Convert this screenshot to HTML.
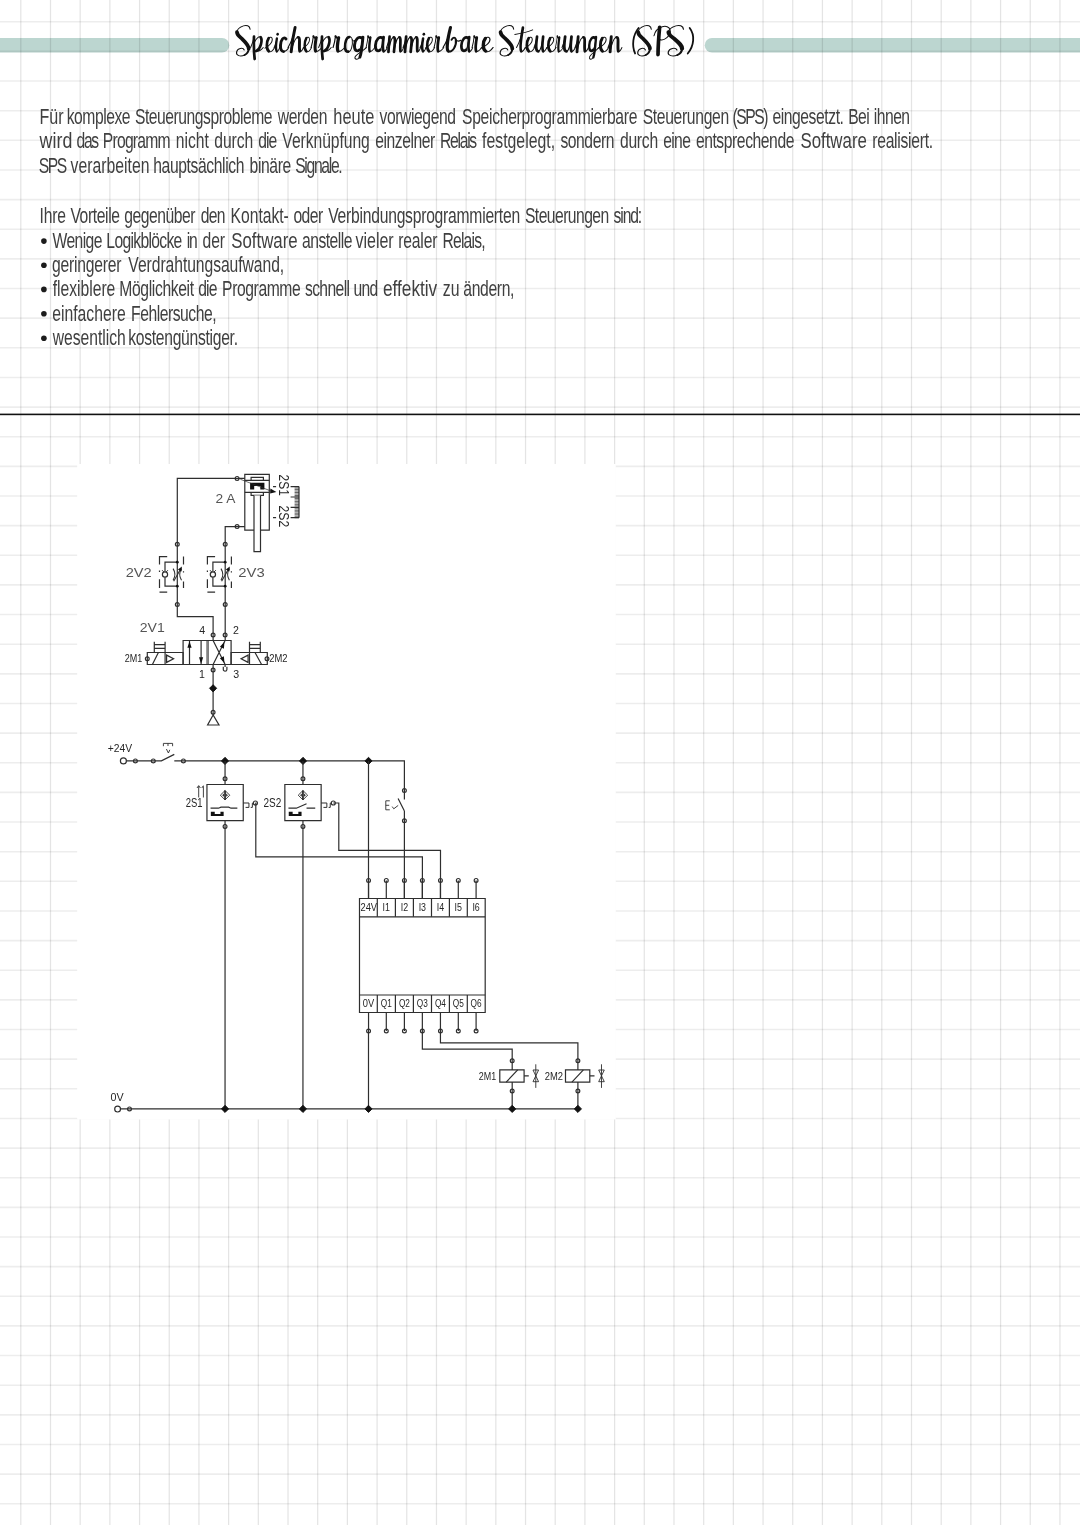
<!DOCTYPE html>
<html lang="de"><head><meta charset="utf-8"><title>Speicherprogrammierbare Steuerungen (SPS)</title>
<style>
html,body{margin:0;padding:0;background:#fff;}
body{width:1080px;height:1525px;position:relative;overflow:hidden;font-family:"Liberation Sans",sans-serif;}
svg{position:absolute;left:0;top:0;display:block;}
text{font-family:"Liberation Sans",sans-serif;}
.body text{font-size:21.2px;fill:#404040;}
.title text{font-family:"Liberation Serif",serif;font-style:italic;}
.dg{fill:none;stroke:#2e2e2e;stroke-width:1.2;}
.dg text{stroke:none;fill:#262626;}
.dg .f{fill:#111;stroke:none;}
.dg .lt{fill:#555;}
.dg .w{fill:#fff;}
.dg .n{fill:none;}
.dg,.body,.title{filter:grayscale(1);}
</style></head><body>
<svg width="1080" height="1525" viewBox="0 0 1080 1525">
<path d="M0,38H222a7.25,7.25 0 0 1 0,14.5H0Z" fill="#bcd6d0"/>
<path d="M1080,38H712a7.25,7.25 0 0 0 0,14.5H1080Z" fill="#bcd6d0"/>
<path d="M20.80,0V1525M50.49,0V1525M80.18,0V1525M109.87,0V1525M139.56,0V1525M169.25,0V1525M198.94,0V1525M228.63,0V1525M258.32,0V1525M288.01,0V1525M317.70,0V1525M347.39,0V1525M377.08,0V1525M406.77,0V1525M436.46,0V1525M466.15,0V1525M495.84,0V1525M525.53,0V1525M555.22,0V1525M584.91,0V1525M614.60,0V1525M644.29,0V1525M673.98,0V1525M703.67,0V1525M733.36,0V1525M763.05,0V1525M792.74,0V1525M822.43,0V1525M852.12,0V1525M881.81,0V1525M911.50,0V1525M941.19,0V1525M970.88,0V1525M1000.57,0V1525M1030.26,0V1525M1059.95,0V1525" stroke="#000" stroke-opacity="0.105" stroke-width="1.25" fill="none"/>
<path d="M0,21.76H1080M0,51.40H1080M0,81.04H1080M0,110.68H1080M0,140.32H1080M0,169.96H1080M0,199.60H1080M0,229.24H1080M0,258.88H1080M0,288.52H1080M0,318.16H1080M0,347.80H1080M0,377.44H1080M0,407.08H1080M0,436.72H1080M0,466.36H1080M0,496.00H1080M0,525.64H1080M0,555.28H1080M0,584.92H1080M0,614.56H1080M0,644.20H1080M0,673.84H1080M0,703.48H1080M0,733.12H1080M0,762.76H1080M0,792.40H1080M0,822.04H1080M0,851.68H1080M0,881.32H1080M0,910.96H1080M0,940.60H1080M0,970.24H1080M0,999.88H1080M0,1029.52H1080M0,1059.16H1080M0,1088.80H1080M0,1118.44H1080M0,1148.08H1080M0,1177.72H1080M0,1207.36H1080M0,1237.00H1080M0,1266.64H1080M0,1296.28H1080M0,1325.92H1080M0,1355.56H1080M0,1385.20H1080M0,1414.84H1080M0,1444.48H1080M0,1474.12H1080M0,1503.76H1080" stroke="#000" stroke-opacity="0.07" stroke-width="1.6" fill="none"/>
<g class="title">
<g fill="none" stroke="#111" stroke-linecap="round" stroke-linejoin="round">
<g transform="translate(236.6,52.2) skewX(-3) scale(1.705,1.550)">
<path d="M7.2,-14.8C7,-17.2 4.8,-17.6 3.2,-17C1.2,-16.2 -0.5,-14.8 -0.4,-13" stroke-width="0.65"/>
<path d="M-0.4,-13C-0.2,-10.8 1.6,-9.8 3,-8.4C5.2,-6.2 7,-4.4 7,-2.2" stroke-width="2.19"/>
<path d="M7,-2.2C7,-0.6 6.2,1 4.8,1.8" stroke-width="1.16"/>
<path d="M4.8,1.8C2.4,3.2 -0.4,2.2 0,-0.2C0.4,-2.6 3.6,-3.4 4.4,-1.4" stroke-width="0.65"/>
</g>
<g transform="translate(250.4,52.2) skewX(-3) scale(1.538,1.550)">
<path d="M0,-3C0.8,-5 1.6,-8 1.9,-10" stroke-width="0.65"/>
<path d="M1.8,-10C1.9,-5 2.4,1 3.0,4.4" stroke-width="1.77"/>
<path d="M2.1,-6C3.1,-9 5.2,-10.6 6.2,-9.6" stroke-width="0.65"/>
<path d="M6.2,-9.6C7.5,-8 6.7,-2 3.7,-0.8" stroke-width="1.77"/>
<path d="M3.7,-0.8C5.2,-0.2 7.2,-1.5 8.2,-3" stroke-width="0.65"/>
</g>
<g transform="translate(264.8,52.2) skewX(-3) scale(1.552,1.550)">
<path d="M0,-2.6C1.6,-3.6 4.4,-5.6 4.4,-8.1C4.4,-9.9 2.7,-10.1 2,-9" stroke-width="0.65"/>
<path d="M2,-9C0.8,-7 0.6,-2 2.6,-0.6" stroke-width="1.77"/>
<path d="M2.6,-0.6C3.8,0.2 5.2,-1 6.2,-3" stroke-width="0.65"/>
</g>
<g transform="translate(273.8,52.2) skewX(-3) scale(1.316,1.550)">
<path d="M0,-3C1,-5 1.6,-7 1.8,-8.8" stroke-width="0.65"/>
<path d="M1.8,-8.8C1.4,-6 1.2,-2 2.2,-0.6" stroke-width="1.77"/>
<path d="M2.2,-0.6C2.8,0 3.7,-1.5 4.2,-3" stroke-width="0.65"/>
<circle cx="2.2" cy="-11.6" r="0.95" fill="#111" stroke="none"/>
</g>
<g transform="translate(278.8,52.2) skewX(-3) scale(1.667,1.550)">
<path d="M3.9,-8.5C2.6,-10.7 0.8,-8 0.8,-4.5C0.8,-1.5 1.8,-0.4 2.9,-0.4" stroke-width="1.77"/>
<path d="M2.9,-0.4C4.2,-0.4 5.2,-1.8 5.8,-3" stroke-width="0.65"/>
</g>
<g transform="translate(287.8,52.2) skewX(-3) scale(1.667,1.550)">
<path d="M0,-3C1.5,-6 3.2,-11.5 3.6,-16" stroke-width="0.65"/>
<path d="M3.6,-16C2.9,-12 2.2,-5 2,-0.2" stroke-width="1.77"/>
<path d="M2,-0.2C2.5,-5 4.2,-9.6 5.7,-9.6" stroke-width="0.65"/>
<path d="M5.7,-9.6C7.3,-9.6 6.3,-3 7.2,-0.6" stroke-width="1.77"/>
<path d="M7.2,-0.6C7.8,0 8.8,-1.5 9.3,-3" stroke-width="0.65"/>
</g>
<g transform="translate(302.8,52.2) skewX(-3) scale(1.379,1.550)">
<path d="M0,-2.6C1.6,-3.6 4.4,-5.6 4.4,-8.1C4.4,-9.9 2.7,-10.1 2,-9" stroke-width="0.65"/>
<path d="M2,-9C0.8,-7 0.6,-2 2.6,-0.6" stroke-width="1.77"/>
<path d="M2.6,-0.6C3.8,0.2 5.2,-1 6.2,-3" stroke-width="0.65"/>
</g>
<g transform="translate(310.8,52.2) skewX(-3) scale(1.724,1.550)">
<path d="M0,-3C0.5,-5 0.9,-8 1.0,-10.4" stroke-width="0.65"/>
<path d="M1.0,-10.4C1.4,-9.2 2.0,-9 2.8,-9.5" stroke-width="1.16"/>
<path d="M2.7,-9.4C2.3,-6 2.1,-2 2.8,-0.6" stroke-width="1.77"/>
<path d="M2.8,-0.6C3.7,0.1 5.3,-1.5 6.3,-3" stroke-width="0.65"/>
</g>
<g transform="translate(318.4,52.2) skewX(-3) scale(1.538,1.550)">
<path d="M0,-3C0.8,-5 1.6,-8 1.9,-10" stroke-width="0.65"/>
<path d="M1.8,-10C1.9,-5 2.4,1 3.0,4.4" stroke-width="1.77"/>
<path d="M2.1,-6C3.1,-9 5.2,-10.6 6.2,-9.6" stroke-width="0.65"/>
<path d="M6.2,-9.6C7.5,-8 6.7,-2 3.7,-0.8" stroke-width="1.77"/>
<path d="M3.7,-0.8C5.2,-0.2 7.2,-1.5 8.2,-3" stroke-width="0.65"/>
</g>
<g transform="translate(332.8,52.2) skewX(-3) scale(1.862,1.550)">
<path d="M0,-3C0.5,-5 0.9,-8 1.0,-10.4" stroke-width="0.65"/>
<path d="M1.0,-10.4C1.4,-9.2 2.0,-9 2.8,-9.5" stroke-width="1.16"/>
<path d="M2.7,-9.4C2.3,-6 2.1,-2 2.8,-0.6" stroke-width="1.77"/>
<path d="M2.8,-0.6C3.7,0.1 5.3,-1.5 6.3,-3" stroke-width="0.65"/>
</g>
<g transform="translate(343.6,52.2) skewX(-3) scale(1.484,1.550)">
<path d="M3.3,-9.8C1.3,-9.8 0.6,-6 0.8,-3.5C1,-1 2,-0.3 3.1,-0.3" stroke-width="1.77"/>
<path d="M3.1,-0.3C5.2,-0.3 6,-5 5.4,-8C5,-10 3.7,-10 3.3,-9.8" stroke-width="0.65"/>
<path d="M5.4,-8C6,-7 6.8,-7 7.3,-7.6" stroke-width="0.65"/>
</g>
<g transform="translate(352.8,52.2) skewX(-3) scale(1.667,1.550)">
<path d="M5.1,-9C3,-10.9 0.8,-8 0.8,-4.5C0.8,-1 2.5,-0.2 3.9,-1.5" stroke-width="1.77"/>
<path d="M3.9,-1.5C4.9,-3 5.4,-7 5.6,-9.8" stroke-width="0.65"/>
<path d="M5.6,-9.8C5.4,-4 5.3,1 4.4,3.2" stroke-width="1.77"/>
<path d="M4.4,3.2C3.5,5.2 1.1,4.8 1.5,3.1C1.9,1.5 5.2,0 8,-3" stroke-width="0.65"/>
</g>
<g transform="translate(365.8,52.2) skewX(-3) scale(1.379,1.550)">
<path d="M0,-3C0.5,-5 0.9,-8 1.0,-10.4" stroke-width="0.65"/>
<path d="M1.0,-10.4C1.4,-9.2 2.0,-9 2.8,-9.5" stroke-width="1.16"/>
<path d="M2.7,-9.4C2.3,-6 2.1,-2 2.8,-0.6" stroke-width="1.77"/>
<path d="M2.8,-0.6C3.7,0.1 5.3,-1.5 6.3,-3" stroke-width="0.65"/>
</g>
<g transform="translate(373.8,52.2) skewX(-3) scale(1.603,1.550)">
<path d="M5.1,-9C3,-10.9 0.8,-8 0.8,-4.5C0.8,-1 2.5,-0.2 3.9,-1.5" stroke-width="1.77"/>
<path d="M3.9,-1.5C4.9,-3 5.4,-7 5.6,-9.8" stroke-width="0.65"/>
<path d="M5.6,-9.8C5.3,-6 5.1,-2 6.1,-0.6" stroke-width="1.77"/>
<path d="M6.1,-0.6C6.7,0 7.8,-1.5 8.2,-3" stroke-width="0.65"/>
</g>
<g transform="translate(386.3,52.2) skewX(-3) scale(1.528,1.550)">
<path d="M0,-3C0.8,-5 1.4,-8 1.6,-10" stroke-width="0.65"/>
<path d="M1.6,-10C1.5,-6 1.4,-3 1.4,-0.2" stroke-width="1.77"/>
<path d="M1.4,-0.2C1.8,-5 3,-9.6 4.4,-9.6" stroke-width="0.65"/>
<path d="M4.4,-9.6C5.8,-9.6 5.1,-4 5,-0.2" stroke-width="1.77"/>
<path d="M5,-0.2C5.4,-5 6.6,-9.6 8,-9.6" stroke-width="0.65"/>
<path d="M8,-9.6C9.5,-9.6 8.5,-3 9.3,-0.6" stroke-width="1.77"/>
<path d="M9.3,-0.6C9.9,0 10.7,-1.5 11.1,-3" stroke-width="0.65"/>
</g>
<g transform="translate(402.8,52.2) skewX(-3) scale(1.574,1.550)">
<path d="M0,-3C0.8,-5 1.4,-8 1.6,-10" stroke-width="0.65"/>
<path d="M1.6,-10C1.5,-6 1.4,-3 1.4,-0.2" stroke-width="1.77"/>
<path d="M1.4,-0.2C1.8,-5 3,-9.6 4.4,-9.6" stroke-width="0.65"/>
<path d="M4.4,-9.6C5.8,-9.6 5.1,-4 5,-0.2" stroke-width="1.77"/>
<path d="M5,-0.2C5.4,-5 6.6,-9.6 8,-9.6" stroke-width="0.65"/>
<path d="M8,-9.6C9.5,-9.6 8.5,-3 9.3,-0.6" stroke-width="1.77"/>
<path d="M9.3,-0.6C9.9,0 10.7,-1.5 11.1,-3" stroke-width="0.65"/>
</g>
<g transform="translate(419.8,52.2) skewX(-3) scale(1.421,1.550)">
<path d="M0,-3C1,-5 1.6,-7 1.8,-8.8" stroke-width="0.65"/>
<path d="M1.8,-8.8C1.4,-6 1.2,-2 2.2,-0.6" stroke-width="1.77"/>
<path d="M2.2,-0.6C2.8,0 3.7,-1.5 4.2,-3" stroke-width="0.65"/>
<circle cx="2.2" cy="-11.6" r="0.95" fill="#111" stroke="none"/>
</g>
<g transform="translate(425.2,52.2) skewX(-3) scale(1.483,1.550)">
<path d="M0,-2.6C1.6,-3.6 4.4,-5.6 4.4,-8.1C4.4,-9.9 2.7,-10.1 2,-9" stroke-width="0.65"/>
<path d="M2,-9C0.8,-7 0.6,-2 2.6,-0.6" stroke-width="1.77"/>
<path d="M2.6,-0.6C3.8,0.2 5.2,-1 6.2,-3" stroke-width="0.65"/>
</g>
<g transform="translate(433.8,52.2) skewX(-3) scale(1.552,1.550)">
<path d="M0,-3C0.5,-5 0.9,-8 1.0,-10.4" stroke-width="0.65"/>
<path d="M1.0,-10.4C1.4,-9.2 2.0,-9 2.8,-9.5" stroke-width="1.16"/>
<path d="M2.7,-9.4C2.3,-6 2.1,-2 2.8,-0.6" stroke-width="1.77"/>
<path d="M2.8,-0.6C3.7,0.1 5.3,-1.5 6.3,-3" stroke-width="0.65"/>
</g>
<g transform="translate(442.8,52.2) skewX(-3) scale(1.771,1.550)">
<path d="M0,-3C1.5,-6 3.2,-11.5 3.6,-16" stroke-width="0.65"/>
<path d="M3.6,-16C2.7,-11 1.6,-2 3.1,-0.6" stroke-width="1.77"/>
<path d="M3.1,-0.6C5.2,0.6 7.8,-4 7,-8C6.6,-10 5.2,-9.6 4.6,-8" stroke-width="1.16"/>
<path d="M7,-8C7.8,-7 8.9,-7 9.8,-7.7" stroke-width="0.65"/>
</g>
<g transform="translate(459.8,52.2) skewX(-3) scale(1.538,1.550)">
<path d="M5.1,-9C3,-10.9 0.8,-8 0.8,-4.5C0.8,-1 2.5,-0.2 3.9,-1.5" stroke-width="1.77"/>
<path d="M3.9,-1.5C4.9,-3 5.4,-7 5.6,-9.8" stroke-width="0.65"/>
<path d="M5.6,-9.8C5.3,-6 5.1,-2 6.1,-0.6" stroke-width="1.77"/>
<path d="M6.1,-0.6C6.7,0 7.8,-1.5 8.2,-3" stroke-width="0.65"/>
</g>
<g transform="translate(471.8,52.2) skewX(-3) scale(1.552,1.550)">
<path d="M0,-3C0.5,-5 0.9,-8 1.0,-10.4" stroke-width="0.65"/>
<path d="M1.0,-10.4C1.4,-9.2 2.0,-9 2.8,-9.5" stroke-width="1.16"/>
<path d="M2.7,-9.4C2.3,-6 2.1,-2 2.8,-0.6" stroke-width="1.77"/>
<path d="M2.8,-0.6C3.7,0.1 5.3,-1.5 6.3,-3" stroke-width="0.65"/>
</g>
<g transform="translate(480.8,52.2) skewX(-3) scale(1.938,1.550)">
<path d="M0,-2.6C1.6,-3.6 4.4,-5.6 4.4,-8.1C4.4,-9.9 2.7,-10.1 2,-9" stroke-width="0.65"/>
<path d="M2,-9C0.8,-7 0.6,-2 2.6,-0.6" stroke-width="1.77"/>
<path d="M2.6,-0.6C3.8,0.2 5.2,-1 6.2,-3" stroke-width="0.65"/>
</g>
<g transform="translate(500.2,52.2) skewX(-3) scale(1.705,1.550)">
<path d="M7.2,-14.8C7,-17.2 4.8,-17.6 3.2,-17C1.2,-16.2 -0.5,-14.8 -0.4,-13" stroke-width="0.65"/>
<path d="M-0.4,-13C-0.2,-10.8 1.6,-9.8 3,-8.4C5.2,-6.2 7,-4.4 7,-2.2" stroke-width="2.19"/>
<path d="M7,-2.2C7,-0.6 6.2,1 4.8,1.8" stroke-width="1.16"/>
<path d="M4.8,1.8C2.4,3.2 -0.4,2.2 0,-0.2C0.4,-2.6 3.6,-3.4 4.4,-1.4" stroke-width="0.65"/>
</g>
<g transform="translate(516.3,52.2) skewX(-3) scale(1.518,1.550)">
<path d="M0,-3C1.5,-6 3.1,-11 3.5,-15.8" stroke-width="0.65"/>
<path d="M3.5,-15.8C2.9,-11 2,-2 3.3,-0.6" stroke-width="1.77"/>
<path d="M3.3,-0.6C3.9,0 5.2,-1.5 5.8,-3" stroke-width="0.65"/>
<path d="M-1.6,-11.4C2,-12 6.5,-12.8 10,-14.4" stroke-width="0.65"/>
</g>
<g transform="translate(524.8,52.2) skewX(-3) scale(1.552,1.550)">
<path d="M0,-2.6C1.6,-3.6 4.4,-5.6 4.4,-8.1C4.4,-9.9 2.7,-10.1 2,-9" stroke-width="0.65"/>
<path d="M2,-9C0.8,-7 0.6,-2 2.6,-0.6" stroke-width="1.77"/>
<path d="M2.6,-0.6C3.8,0.2 5.2,-1 6.2,-3" stroke-width="0.65"/>
</g>
<g transform="translate(533.8,52.2) skewX(-3) scale(1.524,1.550)">
<path d="M0,-3C0.8,-5 1.4,-8 1.6,-10" stroke-width="0.65"/>
<path d="M1.6,-10C1.2,-5 1,-0.5 2.9,-0.5" stroke-width="1.77"/>
<path d="M2.9,-0.5C4.3,-0.5 5.3,-6 5.6,-10" stroke-width="0.65"/>
<path d="M5.6,-10C5.3,-6 5.1,-2 6.1,-0.6" stroke-width="1.77"/>
<path d="M6.1,-0.6C6.7,0 7.8,-1.5 8.4,-3" stroke-width="0.65"/>
</g>
<g transform="translate(546.3,52.2) skewX(-3) scale(1.534,1.550)">
<path d="M0,-2.6C1.6,-3.6 4.4,-5.6 4.4,-8.1C4.4,-9.9 2.7,-10.1 2,-9" stroke-width="0.65"/>
<path d="M2,-9C0.8,-7 0.6,-2 2.6,-0.6" stroke-width="1.77"/>
<path d="M2.6,-0.6C3.8,0.2 5.2,-1 6.2,-3" stroke-width="0.65"/>
</g>
<g transform="translate(555.2,52.2) skewX(-3) scale(1.240,1.550)">
<path d="M0,-3C0.5,-5 0.9,-8 1.0,-10.4" stroke-width="0.65"/>
<path d="M1.0,-10.4C1.4,-9.2 2.0,-9 2.8,-9.5" stroke-width="1.16"/>
<path d="M2.7,-9.4C2.3,-6 2.1,-2 2.8,-0.6" stroke-width="1.77"/>
<path d="M2.8,-0.6C3.7,0.1 5.3,-1.5 6.3,-3" stroke-width="0.65"/>
</g>
<g transform="translate(561.8,52.2) skewX(-3) scale(1.585,1.550)">
<path d="M0,-3C0.8,-5 1.4,-8 1.6,-10" stroke-width="0.65"/>
<path d="M1.6,-10C1.2,-5 1,-0.5 2.9,-0.5" stroke-width="1.77"/>
<path d="M2.9,-0.5C4.3,-0.5 5.3,-6 5.6,-10" stroke-width="0.65"/>
<path d="M5.6,-10C5.3,-6 5.1,-2 6.1,-0.6" stroke-width="1.77"/>
<path d="M6.1,-0.6C6.7,0 7.8,-1.5 8.4,-3" stroke-width="0.65"/>
</g>
<g transform="translate(574.8,52.2) skewX(-3) scale(1.585,1.550)">
<path d="M0,-3C0.8,-5 1.4,-8 1.6,-10" stroke-width="0.65"/>
<path d="M1.6,-10C1.5,-6 1.4,-3 1.4,-0.2" stroke-width="1.77"/>
<path d="M1.4,-0.2C1.8,-5 3.3,-9.6 4.9,-9.6" stroke-width="0.65"/>
<path d="M4.9,-9.6C6.5,-9.6 5.5,-3 6.4,-0.6" stroke-width="1.77"/>
<path d="M6.4,-0.6C7,0 7.9,-1.5 8.4,-3" stroke-width="0.65"/>
</g>
<g transform="translate(587.8,52.2) skewX(-3) scale(1.333,1.550)">
<path d="M5.1,-9C3,-10.9 0.8,-8 0.8,-4.5C0.8,-1 2.5,-0.2 3.9,-1.5" stroke-width="1.77"/>
<path d="M3.9,-1.5C4.9,-3 5.4,-7 5.6,-9.8" stroke-width="0.65"/>
<path d="M5.6,-9.8C5.4,-4 5.3,1 4.4,3.2" stroke-width="1.77"/>
<path d="M4.4,3.2C3.5,5.2 1.1,4.8 1.5,3.1C1.9,1.5 5.2,0 8,-3" stroke-width="0.65"/>
</g>
<g transform="translate(598.2,52.2) skewX(-3) scale(1.655,1.550)">
<path d="M0,-2.6C1.6,-3.6 4.4,-5.6 4.4,-8.1C4.4,-9.9 2.7,-10.1 2,-9" stroke-width="0.65"/>
<path d="M2,-9C0.8,-7 0.6,-2 2.6,-0.6" stroke-width="1.77"/>
<path d="M2.6,-0.6C3.8,0.2 5.2,-1 6.2,-3" stroke-width="0.65"/>
</g>
<g transform="translate(607.8,52.2) skewX(-3) scale(1.646,1.550)">
<path d="M0,-3C0.8,-5 1.4,-8 1.6,-10" stroke-width="0.65"/>
<path d="M1.6,-10C1.5,-6 1.4,-3 1.4,-0.2" stroke-width="1.77"/>
<path d="M1.4,-0.2C1.8,-5 3.3,-9.6 4.9,-9.6" stroke-width="0.65"/>
<path d="M4.9,-9.6C6.5,-9.6 5.5,-3 6.4,-0.6" stroke-width="1.77"/>
<path d="M6.4,-0.6C7,0 7.9,-1.5 8.4,-3" stroke-width="0.65"/>
</g>
<g transform="translate(630.8,52.2) skewX(-3) scale(1.550,1.550)">
<path d="M4.2,-15.6C0.6,-11 0.4,-4 2.8,0.8" stroke-width="1.16"/>
</g>
<g transform="translate(637.8,52.2) skewX(-3) scale(1.705,1.550)">
<path d="M7.2,-14.8C7,-17.2 4.8,-17.6 3.2,-17C1.2,-16.2 -0.5,-14.8 -0.4,-13" stroke-width="0.65"/>
<path d="M-0.4,-13C-0.2,-10.8 1.6,-9.8 3,-8.4C5.2,-6.2 7,-4.4 7,-2.2" stroke-width="2.19"/>
<path d="M7,-2.2C7,-0.6 6.2,1 4.8,1.8" stroke-width="1.16"/>
<path d="M4.8,1.8C2.4,3.2 -0.4,2.2 0,-0.2C0.4,-2.6 3.6,-3.4 4.4,-1.4" stroke-width="0.65"/>
</g>
<g transform="translate(652.8,52.2) skewX(-3) scale(1.674,1.550)">
<path d="M3.3,-16.2C3.1,-11 2.9,-5 3.2,1.6" stroke-width="2.19"/>
<path d="M0.2,-10.6C1.2,-16.8 8.4,-18.6 9.6,-14.4C10.6,-10.6 6.2,-6.8 3.6,-8.2" stroke-width="0.65"/>
</g>
<g transform="translate(668.3,52.2) skewX(-3) scale(1.938,1.550)">
<path d="M7.2,-14.8C7,-17.2 4.8,-17.6 3.2,-17C1.2,-16.2 -0.5,-14.8 -0.4,-13" stroke-width="0.65"/>
<path d="M-0.4,-13C-0.2,-10.8 1.6,-9.8 3,-8.4C5.2,-6.2 7,-4.4 7,-2.2" stroke-width="2.19"/>
<path d="M7,-2.2C7,-0.6 6.2,1 4.8,1.8" stroke-width="1.16"/>
<path d="M4.8,1.8C2.4,3.2 -0.4,2.2 0,-0.2C0.4,-2.6 3.6,-3.4 4.4,-1.4" stroke-width="0.65"/>
</g>
<g transform="translate(687.8,52.2) skewX(-3) scale(1.550,1.550)">
<path d="M0.4,-15.6C4.2,-11 3.8,-4 0,0.8" stroke-width="1.16"/>
</g>
</g>
</g>
<g class="body">
<text transform="translate(39.50,123.7) scale(0.758,1)" letter-spacing="0.00">Für</text>
<text transform="translate(66.76,123.7) scale(0.740,1)" letter-spacing="-0.65">komplexe</text>
<text transform="translate(134.97,123.7) scale(0.740,1)" letter-spacing="-0.63">Steuerungsprobleme</text>
<text transform="translate(277.82,123.7) scale(0.740,1)" letter-spacing="-0.49">werden</text>
<text transform="translate(333.30,123.7) scale(0.773,1)" letter-spacing="0.00">heute</text>
<text transform="translate(379.59,123.7) scale(0.740,1)" letter-spacing="-0.57">vorwiegend</text>
<text transform="translate(462.05,123.7) scale(0.740,1)" letter-spacing="-0.41">Speicherprogrammierbare</text>
<text transform="translate(642.64,123.7) scale(0.740,1)" letter-spacing="-0.44">Steuerungen</text>
<text transform="translate(732.47,123.7) scale(0.740,1)" letter-spacing="-1.98">(SPS)</text>
<text transform="translate(772.39,123.7) scale(0.740,1)" letter-spacing="-0.57">eingesetzt.</text>
<text transform="translate(848.35,123.7) scale(0.740,1)" letter-spacing="-0.93">Bei</text>
<text transform="translate(873.66,123.7) scale(0.740,1)" letter-spacing="-0.65">ihnen</text>
<text transform="translate(39.54,148.3) scale(0.840,1)" letter-spacing="0.10">wird</text>
<text transform="translate(76.47,148.3) scale(0.740,1)" letter-spacing="-1.71">das</text>
<text transform="translate(102.82,148.3) scale(0.740,1)" letter-spacing="-1.04">Programm</text>
<text transform="translate(175.79,148.3) scale(0.740,1)" letter-spacing="-0.04">nicht</text>
<text transform="translate(214.27,148.3) scale(0.740,1)" letter-spacing="-0.09">durch</text>
<text transform="translate(258.24,148.3) scale(0.740,1)" letter-spacing="-1.23">die</text>
<text transform="translate(282.37,148.3) scale(0.740,1)" letter-spacing="-0.07">Verknüpfung</text>
<text transform="translate(375.18,148.3) scale(0.740,1)" letter-spacing="-0.60">einzelner</text>
<text transform="translate(439.97,148.3) scale(0.740,1)" letter-spacing="-1.71">Relais</text>
<text transform="translate(482.10,148.3) scale(0.746,1)" letter-spacing="0.00">festgelegt,</text>
<text transform="translate(560.39,148.3) scale(0.740,1)" letter-spacing="-0.58">sondern</text>
<text transform="translate(619.97,148.3) scale(0.740,1)" letter-spacing="-0.36">durch</text>
<text transform="translate(663.18,148.3) scale(0.740,1)" letter-spacing="-0.87">eine</text>
<text transform="translate(695.88,148.3) scale(0.740,1)" letter-spacing="-0.58">entsprechende</text>
<text transform="translate(800.40,148.3) scale(0.795,1)" letter-spacing="0.00">Software</text>
<text transform="translate(872.26,148.3) scale(0.740,1)" letter-spacing="-0.37">realisiert.</text>
<text transform="translate(38.78,173.3) scale(0.740,1)" letter-spacing="-1.93">SPS</text>
<text transform="translate(70.60,173.3) scale(0.744,1)" letter-spacing="-0.00">verarbeiten</text>
<text transform="translate(153.30,173.3) scale(0.740,1)" letter-spacing="-0.53">hauptsächlich</text>
<text transform="translate(249.61,173.3) scale(0.740,1)" letter-spacing="-0.52">binäre</text>
<text transform="translate(295.15,173.3) scale(0.740,1)" letter-spacing="-1.76">Signale.</text>
<text transform="translate(39.43,223.4) scale(0.740,1)" letter-spacing="-0.18">Ihre</text>
<text transform="translate(70.41,223.4) scale(0.740,1)" letter-spacing="-0.51">Vorteile</text>
<text transform="translate(124.27,223.4) scale(0.740,1)" letter-spacing="-0.62">gegenüber</text>
<text transform="translate(200.65,223.4) scale(0.740,1)" letter-spacing="-0.93">den</text>
<text transform="translate(230.59,223.4) scale(0.740,1)" letter-spacing="-0.04">Kontakt-</text>
<text transform="translate(293.42,223.4) scale(0.740,1)" letter-spacing="-0.74">oder</text>
<text transform="translate(328.28,223.4) scale(0.740,1)" letter-spacing="-0.33">Verbindungsprogrammierten</text>
<text transform="translate(524.93,223.4) scale(0.740,1)" letter-spacing="-0.73">Steuerungen</text>
<text transform="translate(613.55,223.4) scale(0.740,1)" letter-spacing="-1.50">sind:</text>
<circle cx="43.9" cy="241.1" r="2.8" fill="#1c1c1c"/>
<text transform="translate(52.50,248.0) scale(0.740,1)" letter-spacing="-0.81">Wenige</text>
<text transform="translate(106.36,248.0) scale(0.740,1)" letter-spacing="-0.92">Logikblöcke</text>
<text transform="translate(186.87,248.0) scale(0.740,1)" letter-spacing="-1.97">in</text>
<text transform="translate(202.40,248.0) scale(0.741,1)" letter-spacing="0.00">der</text>
<text transform="translate(231.20,248.0) scale(0.795,1)" letter-spacing="0.00">Software</text>
<text transform="translate(302.05,248.0) scale(0.740,1)" letter-spacing="-0.69">anstelle</text>
<text transform="translate(355.40,248.0) scale(0.756,1)" letter-spacing="0.00">vieler</text>
<text transform="translate(398.30,248.0) scale(0.740,1)" letter-spacing="-0.27">realer</text>
<text transform="translate(442.41,248.0) scale(0.740,1)" letter-spacing="-1.05">Relais,</text>
<circle cx="43.9" cy="265.3" r="2.8" fill="#1c1c1c"/>
<text transform="translate(52.08,272.2) scale(0.740,1)" letter-spacing="-0.31">geringerer</text>
<text transform="translate(128.37,272.2) scale(0.740,1)" letter-spacing="-0.07">Verdrahtungsaufwand,</text>
<circle cx="43.9" cy="289.4" r="2.8" fill="#1c1c1c"/>
<text transform="translate(52.79,296.3) scale(0.740,1)" letter-spacing="-0.03">flexiblere</text>
<text transform="translate(119.32,296.3) scale(0.740,1)" letter-spacing="-0.49">Möglichkeit</text>
<text transform="translate(198.19,296.3) scale(0.740,1)" letter-spacing="-1.10">die</text>
<text transform="translate(222.10,296.3) scale(0.740,1)" letter-spacing="-0.55">Programme</text>
<text transform="translate(304.90,296.3) scale(0.740,1)" letter-spacing="-0.82">schnell</text>
<text transform="translate(353.55,296.3) scale(0.740,1)" letter-spacing="-0.93">und</text>
<text transform="translate(383.00,296.3) scale(0.813,1)" letter-spacing="0.00">effektiv</text>
<text transform="translate(442.80,296.3) scale(0.746,1)" letter-spacing="0.00">zu</text>
<text transform="translate(463.33,296.3) scale(0.740,1)" letter-spacing="-0.47">ändern,</text>
<circle cx="43.9" cy="313.8" r="2.8" fill="#1c1c1c"/>
<text transform="translate(52.20,320.7) scale(0.743,1)" letter-spacing="0.00">einfachere</text>
<text transform="translate(131.07,320.7) scale(0.740,1)" letter-spacing="-0.63">Fehlersuche,</text>
<circle cx="43.9" cy="338.3" r="2.8" fill="#1c1c1c"/>
<text transform="translate(52.79,345.2) scale(0.740,1)" letter-spacing="-0.03">wesentlich</text>
<text transform="translate(128.25,345.2) scale(0.740,1)" letter-spacing="-0.39">kostengünstiger.</text>
</g>
<rect x="0" y="413.6" width="1080" height="1.6" fill="#111"/>
<rect x="77.2" y="464" width="538.6" height="655.5" fill="#fff"/>
</svg>
<svg class="dg" width="538.6" height="655.5" viewBox="77.2 464 538.6 655.5" style="left:77.2px;top:464px">
<path d="M245,478.4H177.5V616.7H213.3V640.5" />
<path d="M245,526.6H225.4V640.5" />
<path d="M245,474.4H269.5V530.2H245Z" />
<path d="M245,480.3H269.5M245,492.3H269.5" />
<path d="M251.3,480.3V477.4H263.6V480.3" />
<path d="M250.3,482.8H264.6V489.4H260.5V485.9H254.4V489.4H250.3Z" class="f"/>
<path d="M251.3,492.3V495.4H263.6V492.3" />
<path d="M254.2,495.4V551.6H260.7V495.4" class="w"/>
<path d="M240.6,479.3L271.2,491" stroke-width="0.7"/>
<path d="M270.6,488.4L276.6,491.9L270.3,493.6Z" class="f"/>
<circle cx="237.3" cy="478.4" r="1.9" class="n"/>
<circle cx="237.3" cy="526.6" r="1.9" class="n"/>
<text x="215.7" y="503.2" font-size="13.3" textLength="19.9" lengthAdjust="spacingAndGlyphs" class="lt">2 A</text>
<text transform="translate(279.6,474.6) rotate(90)" font-size="14.5" textLength="21.2" lengthAdjust="spacingAndGlyphs">2S1</text>
<text transform="translate(279.6,505.6) rotate(90)" font-size="14.5" textLength="21.6" lengthAdjust="spacingAndGlyphs">2S2</text>
<path d="M273.2,486.6H276.3M273.2,517.7H276.3" />
<path d="M299.2,486.6V517.7M290.8,486.6H299.2M290.8,497.0H299.2M290.8,507.3H299.2M290.8,517.7H299.2" />
<path d="M294.8,486.60H299.2M294.8,488.08H299.2M294.8,489.56H299.2M294.8,491.04H299.2M294.8,492.52H299.2M294.8,494.00H299.2M294.8,495.49H299.2M294.8,496.97H299.2M294.8,498.45H299.2M294.8,499.93H299.2M294.8,501.41H299.2M294.8,502.89H299.2M294.8,504.37H299.2M294.8,505.85H299.2M294.8,507.33H299.2M294.8,508.81H299.2M294.8,510.30H299.2M294.8,511.78H299.2M294.8,513.26H299.2M294.8,514.74H299.2M294.8,516.22H299.2M294.8,517.70H299.2" stroke-width="0.75"/>
<path d="M167.39999999999998,556.6H159.7V564.4M159.7,570.4V571.9M159.7,579.3V588.1M159.7,592.1H167.39999999999998M183.7,556.6V564.4M183.7,571.2V572.6M183.7,581.5V588.1" />
<path d="M177.5,562.2H165.2V571.7M165.2,577.1V586.2H177.5" />
<path d="M162.29999999999998,570.2L165.2,573.2L168.1,570.2" stroke-width="1"/>
<circle cx="165.2" cy="574.4" r="2.6" class="w"/>
<circle cx="177.5" cy="562.2" r="1.4" class="f"/>
<circle cx="177.5" cy="586.2" r="1.4" class="f"/>
<path d="M173.3,568.6Q176.9,574.4 173.3,580.2M181.7,568.6Q178.1,574.4 181.7,580.2" stroke-width="1.1"/>
<path d="M173.9,581.2L181.1,568.4" stroke-width="1.1"/>
<path d="M182.1,566.6L181.7,571.6L178.1,569.5Z" class="f"/>
<circle cx="177.5" cy="544.3" r="1.9" class="n"/>
<circle cx="177.5" cy="604.5" r="1.9" class="n"/>
<path d="M215.29999999999998,556.6H207.6V564.4M207.6,570.4V571.9M207.6,579.3V588.1M207.6,592.1H215.29999999999998M231.6,556.6V564.4M231.6,571.2V572.6M231.6,581.5V588.1" />
<path d="M225.4,562.2H213.1V571.7M213.1,577.1V586.2H225.4" />
<path d="M210.2,570.2L213.1,573.2L216.0,570.2" stroke-width="1"/>
<circle cx="213.1" cy="574.4" r="2.6" class="w"/>
<circle cx="225.4" cy="562.2" r="1.4" class="f"/>
<circle cx="225.4" cy="586.2" r="1.4" class="f"/>
<path d="M221.20000000000002,568.6Q224.8,574.4 221.20000000000002,580.2M229.6,568.6Q226.0,574.4 229.6,580.2" stroke-width="1.1"/>
<path d="M221.8,581.2L229.0,568.4" stroke-width="1.1"/>
<path d="M230.0,566.6L229.6,571.6L226.0,569.5Z" class="f"/>
<circle cx="225.4" cy="544.3" r="1.9" class="n"/>
<circle cx="225.4" cy="604.5" r="1.9" class="n"/>
<text x="125.9" y="577" font-size="12.4" textLength="26" lengthAdjust="spacingAndGlyphs" class="lt">2V2</text>
<text x="238.5" y="577" font-size="12.4" textLength="26.4" lengthAdjust="spacingAndGlyphs" class="lt">2V3</text>
<text x="140" y="632.5" font-size="12.8" textLength="25" lengthAdjust="spacingAndGlyphs" class="lt">2V1</text>
<path d="M183.3,640.5H231.3V664.5H183.3Z" />
<path d="M207.2,640.5V664.5M208.4,640.5V664.5" stroke-width="0.9"/>
<path d="M189.7,664.5V640.5M201.3,640.5V664.5" />
<path d="M187.6,647.8H191.8L189.7,641.2Z" class="f"/>
<path d="M199.2,657.2H203.4L201.3,663.8Z" class="f"/>
<path d="M213.3,664.5L225.3,640.5M213.3,640.5L225.3,664.5" />
<path d="M224.6,641.9L224.1,648.8L220.1,646.8Z" class="f"/>
<path d="M224.6,663.1L220.1,658.2L224.1,656.2Z" class="f"/>
<path d="M147.5,652.5H183.3V664.5H147.5Z" />
<path d="M152.6,664.5L158.6,652.5M165.3,652.5V664.5" />
<path d="M166.8,655.1L173.8,658.7L166.8,662.4Z" />
<path d="M154.5,652.5V641.7M165.3,652.5V641.7M154.5,644.7H165.3M154.5,648.3H165.3" />
<circle cx="147.5" cy="658.7" r="1.9" class="n"/>
<path d="M231.3,652.5H267.5V664.5H231.3Z" />
<path d="M255.2,652.5L261.8,664.5M249.7,652.5V664.5" />
<path d="M248.3,655.1L241.3,658.7L248.3,662.4Z" />
<path d="M249.7,652.5V641.7M260.5,652.5V641.7M249.7,644.7H260.5M249.7,648.3H260.5" />
<circle cx="267.2" cy="658.7" r="1.9" class="n"/>
<text x="125" y="662.5" font-size="10.4" textLength="17.5" lengthAdjust="spacingAndGlyphs" >2M1</text>
<text x="269.4" y="662.5" font-size="10.4" textLength="18.3" lengthAdjust="spacingAndGlyphs" >2M2</text>
<text x="199.5" y="633.8" font-size="10.6" >4</text>
<text x="233.2" y="633.8" font-size="10.6" >2</text>
<text x="199.3" y="678.2" font-size="10.6" >1</text>
<text x="233.4" y="678.2" font-size="10.6" >3</text>
<circle cx="213.3" cy="635" r="1.9" class="n"/>
<circle cx="225.3" cy="635" r="1.9" class="n"/>
<path d="M213.3,664.5V715M225.3,664.5V667" />
<circle cx="213.3" cy="670" r="1.9" class="n"/>
<path d="M223.5,666.8V669.4A1.8,1.8 0 0 0 227.1,669.4V666.8" />
<path d="M209.70,688.3L213.3,684.70L216.90,688.3L213.3,691.90Z" fill="#111" stroke="#111" stroke-width="0.9" stroke-linejoin="round"/>
<circle cx="213.3" cy="712.2" r="1.9" class="n"/>
<path d="M213.3,715L207.8,725H219.2Z" />
<text x="108" y="752.5" font-size="10.7" textLength="24.4" lengthAdjust="spacingAndGlyphs" >+24V</text>
<path d="M126.8,760.9H161.6L174.5,754.4M174.5,760.9H404.6V799.6M404.6,811.1L398.3,798.5M404.6,811.1V898.5" />
<circle cx="123.6" cy="760.9" r="3.0" class="w"/>
<circle cx="135.6" cy="760.9" r="1.9" class="n"/>
<circle cx="153.5" cy="760.9" r="1.9" class="n"/>
<circle cx="183.6" cy="760.9" r="1.9" class="n"/>
<path d="M163.6,746.2V743.4H172.8V746.2M168.2,743.4V746" stroke-width="0.9"/>
<path d="M166.6,749L168.6,753L170,749.8" stroke-width="0.9"/>
<path d="M221.60,760.9L225.2,757.30L228.80,760.9L225.2,764.50Z" fill="#111" stroke="#111" stroke-width="0.9" stroke-linejoin="round"/>
<path d="M299.60,760.9L303.2,757.30L306.80,760.9L303.2,764.50Z" fill="#111" stroke="#111" stroke-width="0.9" stroke-linejoin="round"/>
<path d="M365.10,760.9L368.7,757.30L372.30,760.9L368.7,764.50Z" fill="#111" stroke="#111" stroke-width="0.9" stroke-linejoin="round"/>
<circle cx="404.6" cy="790.6" r="1.9" class="n"/>
<circle cx="404.6" cy="820.8" r="1.9" class="n"/>
<path d="M390,800.8H386V809.8H390M386,805.3H389.4" stroke-width="0.9"/>
<path d="M392.4,806.6L394,808.8L398.4,805.4" stroke-width="0.9"/>
<path d="M225.25,760.9V784.5M225.25,820.7V1108.9" />
<path d="M207.15,784.5H243.45V820.7H207.15Z" />
<circle cx="225.25" cy="778.7" r="1.9" class="n"/>
<circle cx="225.25" cy="826.4" r="1.9" class="n"/>
<path d="M225.25,790.5L229.95,795.2L225.25,799.9L220.55,795.2Z" stroke-width="0.9"/>
<path d="M225.25,790.5V799.9" stroke-width="1.8"/>
<path d="M224.05,793.6L222.45,795.2L224.05,796.8ZM226.45,793.6L228.05,795.2L226.45,796.8Z" class="f"/>
<path d="M210.75,808.2H218.65L221.25,807.2H228.85L231.25,808.2H237.55" />
<path d="M211.05,811.7H214.95000000000002V814.1H220.65V811.7H223.85V816H211.05Z" class="f"/>
<path d="M243.45,803H249.15V807.4H245.75" stroke-width="1"/>
<path d="M250.95,807.4H252.55V803.2H253.75" stroke-width="1"/>
<path d="M303.15,760.9V784.5M303.15,820.7V1108.9" />
<path d="M285.04999999999995,784.5H321.34999999999997V820.7H285.04999999999995Z" />
<circle cx="303.15" cy="778.7" r="1.9" class="n"/>
<circle cx="303.15" cy="826.4" r="1.9" class="n"/>
<path d="M303.15,790.5L307.84999999999997,795.2L303.15,799.9L298.45,795.2Z" stroke-width="0.9"/>
<path d="M303.15,790.5V799.9" stroke-width="1.8"/>
<path d="M301.95,793.6L300.34999999999997,795.2L301.95,796.8ZM304.34999999999997,793.6L305.95,795.2L304.34999999999997,796.8Z" class="f"/>
<path d="M288.65,808.2H296.54999999999995L306.74999999999994,803.8M306.74999999999994,808.2H315.44999999999993" />
<path d="M288.94999999999993,811.7H292.84999999999997V814.1H298.54999999999995V811.7H301.74999999999994V816H288.94999999999993Z" class="f"/>
<path d="M321.34999999999997,803H327.04999999999995V807.4H323.65" stroke-width="1"/>
<path d="M328.84999999999997,807.4H330.44999999999993V803.2H331.65" stroke-width="1"/>
<path d="M255.6,803H256V856.9H422.6V898.5" />
<path d="M333.5,803H339V850.4H440.7V898.5" />
<circle cx="255.6" cy="803" r="2.0" class="n"/>
<circle cx="333.5" cy="803" r="2.0" class="n"/>
<text x="186" y="807" font-size="12" textLength="16.8" lengthAdjust="spacingAndGlyphs" >2S1</text>
<text x="263.7" y="807" font-size="12" textLength="17.8" lengthAdjust="spacingAndGlyphs" >2S2</text>
<path d="M198.9,797.5V786.2M203.6,797.5V786.2M197.2,788L198.9,785.6L200.6,788M202,788L203.6,785.6" stroke-width="0.9"/>
<path d="M368.7,760.9V898.5" />
<path d="M359.7,898.5H485.4V1012.5H359.7Z" />
<path d="M359.7,916.8H485.4M359.7,995H485.4" />
<path d="M377.5,898.5V916.8M377.5,995V1012.5M395.6,898.5V916.8M395.6,995V1012.5M413.6,898.5V916.8M413.6,995V1012.5M431.7,898.5V916.8M431.7,995V1012.5M449.6,898.5V916.8M449.6,995V1012.5M467.5,898.5V916.8M467.5,995V1012.5" />
<path d="M368.75,880.4V898.5M368.75,1012.5V1031M386.5,880.4V898.5M386.5,1012.5V1031M404.6,880.4V898.5M404.6,1012.5V1031M422.55,880.4V898.5M422.55,1012.5V1031M440.65,880.4V898.5M440.65,1012.5V1031M458.5,880.4V898.5M458.5,1012.5V1031M476.3,880.4V898.5M476.3,1012.5V1031" />
<circle cx="368.75" cy="880.4" r="1.9" class="n"/>
<circle cx="368.75" cy="1031" r="1.9" class="n"/>
<circle cx="386.5" cy="880.4" r="1.9" class="n"/>
<circle cx="386.5" cy="1031" r="1.9" class="n"/>
<circle cx="404.6" cy="880.4" r="1.9" class="n"/>
<circle cx="404.6" cy="1031" r="1.9" class="n"/>
<circle cx="422.55" cy="880.4" r="1.9" class="n"/>
<circle cx="422.55" cy="1031" r="1.9" class="n"/>
<circle cx="440.65" cy="880.4" r="1.9" class="n"/>
<circle cx="440.65" cy="1031" r="1.9" class="n"/>
<circle cx="458.5" cy="880.4" r="1.9" class="n"/>
<circle cx="458.5" cy="1031" r="1.9" class="n"/>
<circle cx="476.3" cy="880.4" r="1.9" class="n"/>
<circle cx="476.3" cy="1031" r="1.9" class="n"/>
<text x="368.95" y="911.3" font-size="11.2" text-anchor="middle" textLength="16.6" lengthAdjust="spacingAndGlyphs">24V</text>
<text x="368.75" y="1006.8" font-size="10.4" text-anchor="middle" textLength="11.4" lengthAdjust="spacingAndGlyphs">0V</text>
<text x="386.5" y="911.2" font-size="11" text-anchor="middle" textLength="7.4" lengthAdjust="spacingAndGlyphs">I1</text>
<text x="386.5" y="1006.8" font-size="10.4" text-anchor="middle" textLength="11" lengthAdjust="spacingAndGlyphs">Q1</text>
<text x="404.6" y="911.2" font-size="11" text-anchor="middle" textLength="7.4" lengthAdjust="spacingAndGlyphs">I2</text>
<text x="404.6" y="1006.8" font-size="10.4" text-anchor="middle" textLength="11" lengthAdjust="spacingAndGlyphs">Q2</text>
<text x="422.55" y="911.2" font-size="11" text-anchor="middle" textLength="7.4" lengthAdjust="spacingAndGlyphs">I3</text>
<text x="422.55" y="1006.8" font-size="10.4" text-anchor="middle" textLength="11" lengthAdjust="spacingAndGlyphs">Q3</text>
<text x="440.65" y="911.2" font-size="11" text-anchor="middle" textLength="7.4" lengthAdjust="spacingAndGlyphs">I4</text>
<text x="440.65" y="1006.8" font-size="10.4" text-anchor="middle" textLength="11" lengthAdjust="spacingAndGlyphs">Q4</text>
<text x="458.5" y="911.2" font-size="11" text-anchor="middle" textLength="7.4" lengthAdjust="spacingAndGlyphs">I5</text>
<text x="458.5" y="1006.8" font-size="10.4" text-anchor="middle" textLength="11" lengthAdjust="spacingAndGlyphs">Q5</text>
<text x="476.3" y="911.2" font-size="11" text-anchor="middle" textLength="7.4" lengthAdjust="spacingAndGlyphs">I6</text>
<text x="476.3" y="1006.8" font-size="10.4" text-anchor="middle" textLength="11" lengthAdjust="spacingAndGlyphs">Q6</text>
<path d="M368.7,1031V1108.9" />
<path d="M422.55,1031V1049.1H512.4V1069.9M512.4,1082.1V1108.9" />
<path d="M440.65,1031V1042.8H578.1V1069.9M578.1,1082.1V1108.9" />
<path d="M500.0,1069.9H524.3V1082.1H500.0Z" />
<path d="M506.4,1082.1L517.9,1069.9M524.3,1075.8H529.0" />
<path d="M536.0,1064.3V1087.9" stroke-width="0.9"/>
<path d="M533.1999999999999,1070H538.8L533.1999999999999,1081.7H538.8Z" stroke-width="0.9"/>
<circle cx="512.4" cy="1060.8" r="1.9" class="n"/>
<circle cx="512.4" cy="1091" r="1.9" class="n"/>
<path d="M565.7,1069.9H590.0V1082.1H565.7Z" />
<path d="M572.1,1082.1L583.6,1069.9M590.0,1075.8H594.7" />
<path d="M601.7,1064.3V1087.9" stroke-width="0.9"/>
<path d="M598.9,1070H604.5L598.9,1081.7H604.5Z" stroke-width="0.9"/>
<circle cx="578.1" cy="1060.8" r="1.9" class="n"/>
<circle cx="578.1" cy="1091" r="1.9" class="n"/>
<text x="479" y="1079.6" font-size="10.5" textLength="17.4" lengthAdjust="spacingAndGlyphs" >2M1</text>
<text x="545" y="1079.6" font-size="10.5" textLength="18.3" lengthAdjust="spacingAndGlyphs" >2M2</text>
<path d="M120.6,1108.9H578.1" />
<circle cx="117.8" cy="1109.1" r="2.9" class="w"/>
<circle cx="129.7" cy="1108.9" r="1.9" class="n"/>
<path d="M221.65,1108.9L225.25,1105.30L228.85,1108.9L225.25,1112.50Z" fill="#111" stroke="#111" stroke-width="0.9" stroke-linejoin="round"/>
<path d="M299.55,1108.9L303.15,1105.30L306.75,1108.9L303.15,1112.50Z" fill="#111" stroke="#111" stroke-width="0.9" stroke-linejoin="round"/>
<path d="M365.10,1108.9L368.7,1105.30L372.30,1108.9L368.7,1112.50Z" fill="#111" stroke="#111" stroke-width="0.9" stroke-linejoin="round"/>
<path d="M508.80,1108.9L512.4,1105.30L516.00,1108.9L512.4,1112.50Z" fill="#111" stroke="#111" stroke-width="0.9" stroke-linejoin="round"/>
<path d="M574.50,1108.9L578.1,1105.30L581.70,1108.9L578.1,1112.50Z" fill="#111" stroke="#111" stroke-width="0.9" stroke-linejoin="round"/>
<text x="110.8" y="1101.1" font-size="10.5" textLength="13.1" lengthAdjust="spacingAndGlyphs" >0V</text>
</svg>
</body></html>
